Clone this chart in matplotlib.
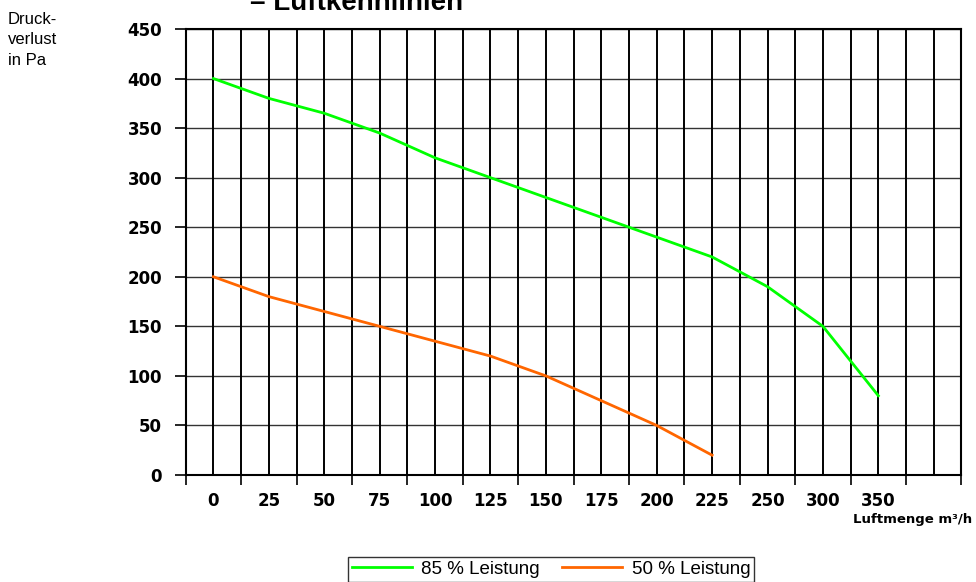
import numpy as np
import matplotlib
matplotlib.use("Agg")
import matplotlib.pyplot as plt

# Luftmenge categories (x axis) and pressure loss in Pa
categories = ["0", "25", "50", "75", "100", "125", "150", "175", "200", "225", "250", "300", "350", ""]
p85 = [400, 380, 365, 345, 320, 300, 280, 260, 240, 220, 190, 150, 80]
p50 = [200, 180, 165, 150, 135, 120, 100, 75, 50, 20]
yticks = [0, 50, 100, 150, 200, 250, 300, 350, 400, 450]

fig = plt.figure(figsize=(9.76, 5.82), dpi=100)
ax = fig.add_axes([0.1903, 0.1838, 0.7948, 0.7664])

x85 = np.arange(len(p85))
x50 = np.arange(len(p50))
ax.plot(x85, p85, color="#00ff00", lw=2.0, label="85 % Leistung", zorder=3)
ax.plot(x50, p50, color="#ff6600", lw=2.0, label="50 % Leistung", zorder=3)

n = len(categories)
ax.set_xlim(-0.5, n - 0.5)
ax.set_ylim(0, 450)

# vertical grid at category centres and boundaries
for v in np.arange(-0.5, n, 0.5):
    ax.axvline(v, color="black", lw=1.4, zorder=1)
ax.set_yticks(yticks)
ax.yaxis.grid(True, color="#333333", lw=1.0, zorder=1)
ax.set_axisbelow(True)

# ticks on boundaries, labels on centres
ax.set_xticks(np.arange(-0.5, n, 1.0))
ax.set_xticklabels([])
ax.set_xticks(np.arange(n), minor=True)
ax.set_xticklabels(categories, minor=True, fontweight="bold", fontsize=12,
                   family="DejaVu Sans")
ax.tick_params(axis="x", which="major", direction="out", length=7, width=1.2)
ax.tick_params(axis="x", which="minor", length=0, pad=12)
ax.tick_params(axis="y", direction="out", length=8, width=1.2, pad=9)
for lab in ax.get_yticklabels():
    lab.set_fontweight("bold")
    lab.set_fontsize(12)

for s in ax.spines.values():
    s.set_linewidth(1.5)
    s.set_color("black")

fig.text(8 / 976, 1 - 12 / 582, "Druck-\nverlust\nin Pa", ha="left", va="top",
         fontsize=12, family="Liberation Sans", linespacing=1.45)
fig.text(972 / 976, 1 - 519 / 582, "Luftmenge m³/h", ha="right", va="center",
         fontsize=9.5, fontweight="bold", family="DejaVu Sans")
fig.text(250 / 976, 1 - 10 / 582, "– Luftkennlinien", ha="left", va="baseline",
         fontsize=20, fontweight="bold", family="Liberation Sans")

leg = fig.legend(loc="upper center", bbox_to_anchor=(551 / 976, 1 - 557 / 582),
                 ncol=2, frameon=True, fancybox=False,
                 prop={"family": "Liberation Sans", "size": 13.5},
                 handlelength=3.2, columnspacing=1.2, handletextpad=0.5,
                 borderpad=0.2, borderaxespad=0)
leg.get_frame().set_edgecolor("black")
leg.get_frame().set_linewidth(1.0)

fig.savefig("out.png", dpi=100)
